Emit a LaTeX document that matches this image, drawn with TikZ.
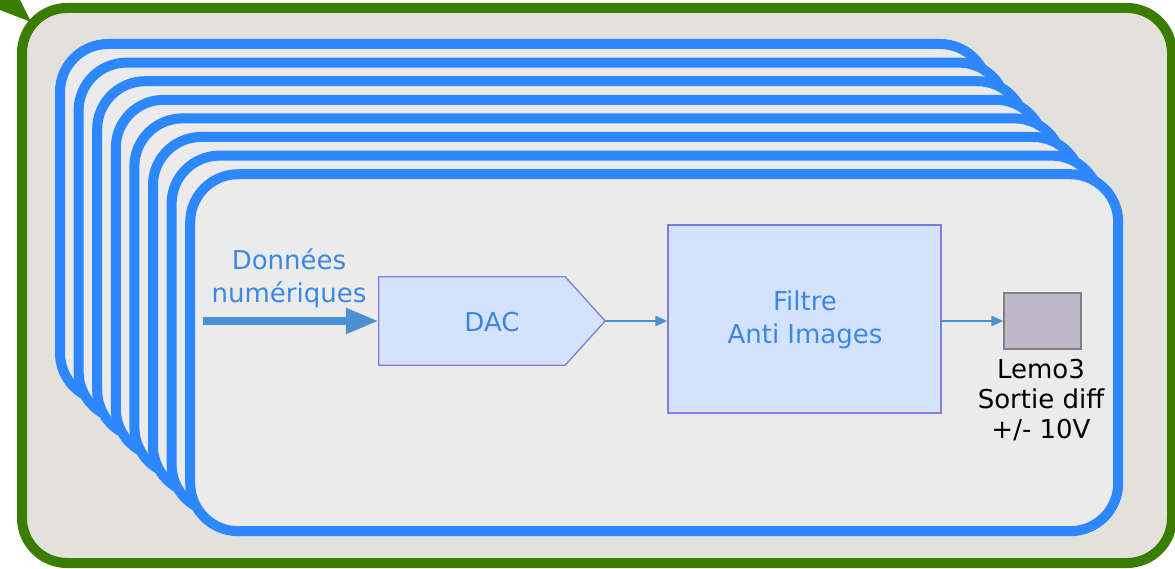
\documentclass[tikz,border=0pt]{standalone}
\usepackage{fontspec}
\setmainfont{DejaVu Sans}
\usetikzlibrary{arrows.meta}
\definecolor{framegreen}{RGB}{58,125,0}
\definecolor{outerfill}{RGB}{226,225,219}
\definecolor{innerfill}{RGB}{235,235,235}
\definecolor{stackblue}{RGB}{45,135,255}
\definecolor{boxfill}{RGB}{212,227,252}
\definecolor{boxline}{RGB}{125,125,230}
\definecolor{textblue}{RGB}{60,135,230}
\definecolor{arrowblue}{RGB}{75,145,210}
\definecolor{lemofill}{RGB}{190,184,200}
\definecolor{lemoline}{RGB}{128,128,128}
\tikzset{
  layer/.style={draw=stackblue,fill=innerfill,line width=10pt,rounded corners=48pt},
  blockbox/.style={draw=boxline,fill=boxfill,line width=1.3pt},
  bluetext/.style={text=textblue,font=\fontsize{26}{33}\selectfont,align=center,inner sep=0pt},
  blacktext/.style={text=black,font=\fontsize{26}{30}\selectfont,align=center,inner sep=0pt},
  thinarrow/.style={draw=arrowblue,line width=2.5pt,-{Triangle[length=12pt,width=10pt]}},
  thickarrow/.style={draw=arrowblue,line width=8pt,-{Triangle[length=33pt,width=24pt]}},
}
\begin{document}
\begin{tikzpicture}[x=1pt,y=-1pt]
\useasboundingbox (0,0) rectangle (1175,569);
% outer frame
\draw[framegreen,fill=outerfill,line width=10pt,rounded corners=45pt] (22,8) rectangle (1172,563);
\fill[framegreen] (0,0) -- (20,0) -- (31,22) -- (0,10) -- cycle;
% stack of layers
\foreach \i in {0,...,7}{
  \pgfmathsetmacro{\o}{\i*18.6}
  \draw[layer] (60+\o,44+\o) rectangle (988+\o,401+\o);
}
% DAC
\node[minimum width=186pt,minimum height=88pt,inner sep=0pt] (dac) at (472,321) {};
\draw[blockbox] (dac.north west) -- (dac.north east) -- ([xshift=40pt]dac.east) -- (dac.south east) -- (dac.south west) -- cycle;
\coordinate (dactip) at ([xshift=40pt]dac.east);
\node[bluetext] (daclbl) at (492,322) {DAC};
% input
\coordinate (in) at (203,321);
\draw[thickarrow] (in) -- (dac.west);
\node[bluetext,anchor=base] (inlbl) at (289,302) {Données\\numériques};
% filter
\node[blockbox,minimum width=273pt,minimum height=188pt,inner sep=0pt] (filt) at (804.5,319) {};
\node[bluetext,anchor=base] (filtlbl) at (805,343) {Filtre\\Anti Images};
\draw[thinarrow] (dactip) -- (filt.west |- dactip);
% lemo
\node[draw=lemoline,fill=lemofill,line width=1.2pt,minimum width=77pt,minimum height=56pt,inner sep=0pt] (lemo) at (1042.5,321) {};
\draw[thinarrow] (filt.east |- lemo.west) -- (lemo.west);
\node[blacktext,anchor=base] (lemolbl) at (1041,438) {Lemo3\\Sortie diff\\+/- 10V};
\end{tikzpicture}
\end{document}
